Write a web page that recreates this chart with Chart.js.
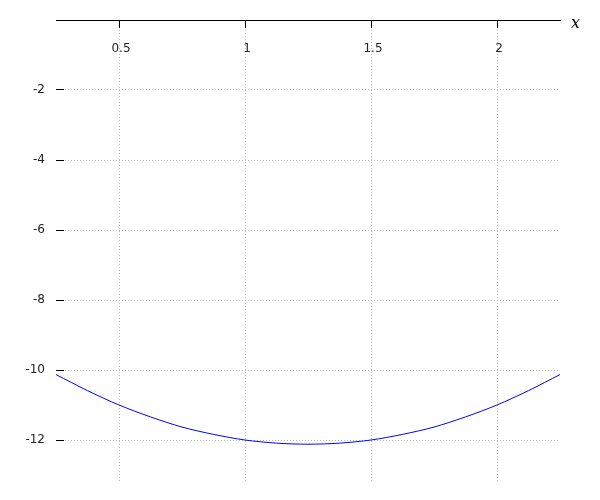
<!DOCTYPE html>
<html>
<head>
<meta charset="utf-8">
<script src="https://cdn.jsdelivr.net/npm/chart.js@4/dist/chart.umd.min.js"></script>
<style>
  html, body { margin: 0; padding: 0; background: #fff; }
  #wrap { width: 600px; height: 500px; }
</style>
</head>
<body>
<div id="wrap"><canvas id="curve-chart"></canvas></div>
<script>
// curve samples
const xValues = [0.25, 0.375, 0.5, 0.625, 0.75, 0.875, 1.0, 1.125, 1.25, 1.375, 1.5, 1.625, 1.75, 1.875, 2.0, 2.125, 2.25];
const yValues = [-10.13, -10.59, -11.0, -11.34, -11.63, -11.84, -12.0, -12.09, -12.12, -12.09, -12.0, -11.84, -11.63, -11.34, -11.0, -10.59, -10.13];

// tick labels
const xTicks = [0.5, 1, 1.5, 2];
const yTicks = [-2, -4, -6, -8, -10, -12];

const points = xValues.map((x, i) => ({ x: x, y: yValues[i] }));

// axis name "x" at the right end of the top axis
const axisName = {
    id: "axisName",
    afterDraw(chart) {
        const ctx = chart.ctx;
        const sx = chart.scales.x;
        ctx.save();
        ctx.fillStyle = "#000";
        ctx.font = "italic 16px 'DejaVu Serif'";
        ctx.textAlign = "left";
        ctx.textBaseline = "alphabetic";
        ctx.fillText("x", sx.right + 11, sx.bottom + 8);
        ctx.restore();
    }
};

Chart.defaults.font.family = "'DejaVu Sans'";
Chart.defaults.font.size = 12;
Chart.defaults.color = "#222";

const ctx = document.getElementById("curve-chart").getContext("2d");
const myChart = new Chart(ctx, {
    type: "scatter",
    data: {
        datasets: [{
            data: points,
            showLine: true,
            borderColor: "#0000ff",
            borderWidth: 1,
            pointRadius: 0,
            tension: 0.3,
            fill: false
        }]
    },
    options: {
        responsive: true,
        maintainAspectRatio: false,
        animation: false,
        layout: { padding: { top: 0, right: 40, bottom: 18, left: 0 } },
        plugins: {
            legend: { display: false },
            tooltip: { enabled: false }
        },
        scales: {
            x: {
                type: "linear",
                position: "top",
                min: 0.25,
                max: 2.25,
                afterBuildTicks: s => { s.ticks = xTicks.map(v => ({ value: v })); },
                afterFit: s => { s.height = 20; s.paddingLeft = 0; s.paddingRight = 0; s.paddingTop = 0; s.paddingBottom = 0; },
                border: { display: true, color: "#000", width: 1, dash: [1, 2] },
                grid: {
                    color: "#bbb",
                    lineWidth: 1,
                    tickLength: -8,
                    tickColor: "#000",
                    tickWidth: 1,
                    tickBorderDash: []
                },
                // mirror keeps the labels unclipped below the axis line
                ticks: { mirror: true, padding: 22, labelOffset: 2, maxRotation: 0, autoSkip: false, callback: v => String(v) }
            },
            y: {
                type: "linear",
                position: "left",
                min: -13.2,
                max: 0,
                afterBuildTicks: s => { s.ticks = yTicks.map(v => ({ value: v })); },
                afterFit: s => { s.width = 56; s.paddingTop = 0; s.paddingBottom = 0; s.paddingLeft = 0; s.paddingRight = 0; },
                border: { display: false, dash: [1, 2] },
                grid: {
                    color: "#bbb",
                    lineWidth: 1,
                    tickLength: -8,
                    tickColor: "#000",
                    tickWidth: 1,
                    tickBorderDash: []
                },
                ticks: { padding: 19, callback: v => String(v) }
            }
        }
    },
    plugins: [axisName]
});
</script>
</body>
</html>
